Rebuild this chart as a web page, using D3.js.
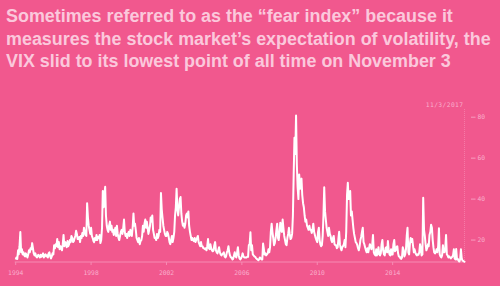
<!DOCTYPE html>
<html>
<head>
<meta charset="utf-8">
<script src="https://cdn.jsdelivr.net/npm/d3@7"></script>
<style>
  html, body { margin: 0; padding: 0; background: #f1588e; }
  svg { display: block; }
</style>
</head>
<body>
<svg id="chart" width="500" height="286"></svg>
<script>
// ---- DATA ----
const titleLines = [
  "Sometimes referred to as the \u201cfear index\u201d because it",
  "measures the stock market\u2019s expectation of volatility, the",
  "VIX slid to its lowest point of all time on November 3"
];
const startYear = 1994;
const endDate = "2017-11-03";
const endLabel = "11/3/2017";
const xTickYears = [1994, 1998, 2002, 2006, 2010, 2014];
const yTicks = [20, 40, 60, 80];
// VIX, two readings per month (1st and 16th), one row per year
const vix = [
  /*1994*/[10.5,11.5, 10.8,15, 13,17, 23.9,14, 15.5,13, 14,12.5, 12,13.5, 12.5,11.5, 13,15, 14,16, 15.5,18.5, 16,13.5],
  /*1995*/[12.5,13.5, 12,11.5, 12,12.8, 12.2,11.5, 12.8,11.8, 12.5,13.5, 11.5,12.5, 13,12, 12.5,11.5, 13.5,14, 12,11, 12,13.5],
  /*1996*/[13,17.5, 16,18, 17,20.5, 16.5,19, 15.5,17, 16,15, 18,22.5, 17,19, 18.5,16.5, 19.5,17, 18,20, 19,22],
  /*1997*/[21,19, 19.5,21, 22,24.5, 23,20.5, 20.5,21.5, 19,22, 21,23.5, 22,26, 24,22.5, 22,38, 31,27, 25,23],
  /*1998*/[26,22, 21,19.5, 19,21, 20,22.5, 20,21.5, 21,22.5, 18.5,20, 26,44, 36,42, 46,32, 27,25, 24,27],
  /*1999*/[29,25, 27,24, 25,22.5, 24,26, 22,27, 23,21, 20,22, 24,25, 23,26, 30,24, 22,23, 21,23],
  /*2000*/[24,22, 25,23, 22,26, 33,27, 28,25, 21,20, 19,21, 18,19.5, 20,22, 27,24, 28,30, 26,29],
  /*2001*/[26,23, 25,27, 31,29, 32,25, 23,21, 21,20, 23,21, 22,25, 24,43, 35,31, 27,25, 23,22],
  /*2002*/[22,24, 23,21, 19,18, 20,22, 19,21, 24,32, 36,45, 35,32, 36,40, 41,33, 29,27, 28,26],
  /*2003*/[28,32, 33,31, 34,27, 24,22, 20,21, 20,19.5, 21,19, 20,21, 22,19, 18,17, 19,17, 17,16],
  /*2004*/[16,15.5, 16,15, 17,20.5, 16,15.5, 18,16, 15,14.5, 15,17.5, 19,15, 14,13.5, 15,16.5, 14,13, 12.5,13],
  /*2005*/[13.5,14, 12,11.5, 12,14, 15,17, 14,12.5, 11.5,11.5, 10.5,10.8, 12.5,14, 12,11.5, 14,16.5, 12.5,11, 10.5,11],
  /*2006*/[12,13.5, 12,11.5, 11.5,11.5, 11.5,11.8, 11.8,17.5, 18,23.8, 15,17.5, 13,12.5, 12,11.8, 11.2,10.8, 10.5,10.2, 10.5,11.5],
  /*2007*/[11,10.5, 10.5,18.3, 16,13, 13.5,12.5, 13,13.5, 15.5,14, 16.5,24, 28,24, 21,17.5, 18.5,21, 25,28, 21,20],
  /*2008*/[24,28.5, 25,24, 30,26, 22,20, 18,17.5, 21,23, 26,23, 20.5,21, 23,32, 52,70, 62,80.8, 57,46],
  /*2009*/[40,52, 45,48, 50,42, 38,36, 32,29, 30,27, 26,25, 27,25, 25,23.5, 25,28, 24,22.5, 21,20],
  /*2010*/[19,24, 26,20, 18,17, 17.5,22, 32,45.8, 34,30, 26,24, 22,26, 23,22, 20,19, 21,22, 18,17.5],
  /*2011*/[17.5,16, 16.5,21, 24,18, 16,15, 16.5,17, 18,20, 16.5,24, 42,48, 40,41, 44,32, 34,30, 26,23],
  /*2012*/[21,19, 18.5,17.5, 16,15, 17,20, 21.5,24, 26,19, 18,16.5, 15,14, 16,14, 16,18, 17,15.5, 17.5,22.5],
  /*2013*/[14,13, 12.5,15.5, 12.5,13.5, 16.5,13, 12.5,13.5, 18,20, 15,13, 12.5,16, 16.5,14, 19.5,15, 13,12.5, 15.5,13],
  /*2014*/[13,18, 20,14.5, 15,16.5, 17,13.5, 12,12, 11,10.8, 11.5,16.5, 15,12, 13,15.5, 22,26, 14,13, 18,21],
  /*2015*/[19,20.5, 17,14, 15.5,14, 13,12.5, 13,12.8, 14,18, 16,12.5, 13,40.7, 25,22, 18,15, 16,18, 17,22.5],
  /*2016*/[24,27.5, 26,20, 16.5,14, 13.5,14, 15.5,14, 17,25.8, 13,12, 11.5,12.5, 17.5,14, 14,16, 22.5,13, 12.5,11.5],
  /*2017*/[12,11.5, 11,11.5, 11.8,12.5, 15.5,11, 10.5,15.6, 10.5,10.8, 10,9.5, 10.5,15.5, 11,10, 9.8,9.5, 9.14]
];

// ---- BUILD SERIES ----
const parse = d3.timeParse("%Y-%m-%d");
const end = parse(endDate);
const flat = vix.flat();
const series = flat.map((v, i) => {
  const y = startYear + Math.floor(i / 24);
  const m = Math.floor((i % 24) / 2);
  const day = (i % 2) ? 16 : 1;
  const date = (i === flat.length - 1) ? end : new Date(y, m, day);
  return { date, value: v };
});

// ---- LAYOUT ----
const svg = d3.select("#chart");
const W = 500, H = 286;
const bg = "#f1588e";
const titleColor = "#fbc8dc";
const axisText = "#f9b0cd";

svg.append("rect").attr("width", W).attr("height", H).attr("fill", bg);

// Title
const title = svg.append("g");
const lineY = [22, 45, 67];
const tNodes = titleLines.map((t, i) =>
  title.append("text")
    .attr("x", 6).attr("y", lineY[i])
    .attr("fill", titleColor)
    .style("font-family", "'Liberation Sans', Arial, Helvetica, sans-serif")
    .style("font-weight", "700")
    .style("font-size", "18px")
    .text(t)
);
// fit line 2 to reference width
const w2 = tNodes[1].node().getComputedTextLength();
const fs = 18 * 485 / w2;
tNodes.forEach(n => n.style("font-size", fs.toFixed(2) + "px"));

// Scales
const x = d3.scaleTime()
  .domain([new Date(startYear, 0, 1), end])
  .range([15.7, 465]);
const y = d3.scaleLinear().domain([0, 80]).range([281, 117.2]);
const baseY = 262;

// x axis
const xAxis = svg.append("g").attr("transform", `translate(0,${baseY})`);
xAxis.append("line")
  .attr("x1", x.range()[0] - 1).attr("x2", x.range()[1] + 1)
  .attr("stroke", "#f68bb3").attr("stroke-width", 1);
const xt = xAxis.selectAll("g.t").data(xTickYears).enter().append("g")
  .attr("transform", d => `translate(${x(new Date(d, 0, 1))},0)`);
xt.append("line").attr("y1", 0).attr("y2", 3).attr("stroke", "#f68bb3");
xt.append("text")
  .attr("y", 12.5).attr("text-anchor", "middle")
  .attr("fill", axisText)
  .style("font-family", "'DejaVu Sans Mono', monospace")
  .style("font-size", "6.3px")
  .text(d => d);

// y axis (right)
const yAxis = svg.append("g");
const yt = yAxis.selectAll("g").data(yTicks).enter().append("g")
  .attr("transform", d => `translate(0,${y(d)})`);
yt.append("line").attr("x1", 471).attr("x2", 475.5)
  .attr("stroke", axisText).attr("stroke-width", 0.8);
yt.append("text")
  .attr("x", 477.5).attr("dy", "0.35em")
  .attr("fill", axisText)
  .style("font-family", "'DejaVu Sans Mono', monospace")
  .style("font-size", "6.3px")
  .text(d => d);

// End marker
svg.append("line")
  .attr("x1", x(end) - 0.5).attr("x2", x(end) - 0.5)
  .attr("y1", 109).attr("y2", baseY)
  .attr("stroke", "#f77aa7").attr("stroke-width", 1)
  .attr("stroke-dasharray", "1,1");
svg.append("text")
  .attr("x", x(end) - 1.5).attr("y", 106.5)
  .attr("text-anchor", "end")
  .attr("fill", axisText)
  .style("font-family", "'DejaVu Sans Mono', monospace")
  .style("font-size", "6.3px")
  .style("letter-spacing", "0.4px")
  .text(endLabel);

// Line
const line = d3.line().x(d => x(d.date)).y(d => y(d.value));
svg.append("path")
  .datum(series)
  .attr("d", line)
  .attr("fill", "none")
  .attr("stroke", "#ffffff")
  .attr("stroke-width", 2)
  .attr("stroke-linejoin", "round");
</script>
</body>
</html>
